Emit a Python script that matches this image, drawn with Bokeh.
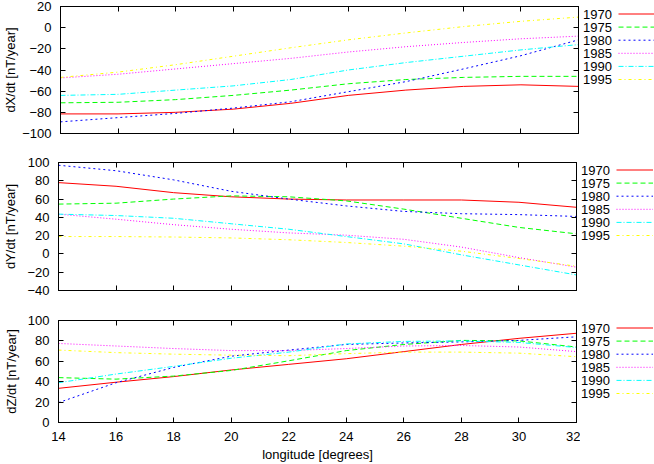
from bokeh.plotting import figure
from bokeh.layouts import column, row
from bokeh.models import Range1d, SingleIntervalTicker, LinearAxis
from bokeh.core.properties import value
from bokeh.embed import file_html
from bokeh.resources import INLINE

# ---- data ----
longitude = [14, 16, 18, 20, 22, 24, 26, 28, 30, 32]
years = ["1970", "1975", "1980", "1985", "1990", "1995"]

dX = {
    "1970": [-81.5, -81.5, -80, -77, -71.5, -64, -59, -55.5, -54, -55.5],
    "1975": [-71, -70.5, -68, -64, -59, -53, -49, -47, -46, -46],
    "1980": [-89, -85, -81, -76, -70, -60.5, -51, -39, -26.5, -11.5],
    "1985": [-47.5, -44, -39, -34, -29, -23, -18, -14, -10.5, -8],
    "1990": [-64, -63, -59, -55, -49, -40, -33, -27, -21, -16],
    "1995": [-47, -42, -35, -27, -19, -11.5, -5, 1, 6, 10],
}
dY = {
    "1970": [78, 74, 67, 62.5, 60, 59, 59, 59, 56.5, 51],
    "1975": [54.5, 55.5, 60, 63.5, 62.5, 58, 49, 39, 29, 22],
    "1980": [97, 91, 81, 68.5, 60, 52.5, 46.5, 44, 43, 41],
    "1985": [43.5, 38, 32, 27, 23, 20.5, 16, 7.5, -4, -14.5],
    "1990": [43.5, 42, 39, 33, 27, 19, 11, -1, -12, -23],
    "1995": [19, 19, 18.5, 17.5, 15.5, 12.5, 8.5, 3, -5, -13.5],
}
dZ = {
    "1970": [33.5, 39.5, 45, 51.5, 57, 62.5, 69.5, 76.5, 82.5, 87.5],
    "1975": [44, 42.5, 45.5, 51, 60.5, 70.5, 76.5, 80.5, 80, 74],
    "1980": [19.5, 39, 54, 65, 71, 76.5, 78, 79, 80.5, 84],
    "1985": [77.5, 75, 72.5, 70.5, 70.5, 72.5, 75, 75.5, 74, 69.5],
    "1990": [39, 47.5, 55, 63, 69, 77, 79.5, 80, 78.5, 73.5],
    "1995": [71, 68.5, 67, 66, 65.5, 67.5, 69, 69, 68, 64.5],
}
y_labels = ["dX/dt [nT/year]", "dY/dt [nT/year]", "dZ/dt [nT/year]"]
y_limits = [(-100, 20), (-40, 100), (0, 100)]
x_label = "longitude [degrees]"

colors = ["#ff0000", "#00ff00", "#0000ff", "#ff00ff", "#00ffff", "#ffff00"]
dashes = ["solid", "5 3", "2 3", "1 2", "5 2 1 2", "3 3 1 3"]

FONT = "Liberation Sans"
FS = "13px"
FRAME_W = 518
LEFT = 51
LEG_W = 73


def style_axis(ax):
    ax.major_tick_in = 5
    ax.major_tick_out = 0
    ax.minor_tick_line_color = None
    ax.axis_line_color = "black"
    ax.major_tick_line_color = "black"
    ax.major_label_text_font = FONT
    ax.major_label_text_font_size = FS
    ax.major_label_text_color = "black"
    ax.axis_label_text_font = FONT
    ax.axis_label_text_font_size = FS
    ax.axis_label_text_font_style = "normal"
    ax.axis_label_text_color = "black"


def make_panel(series, ylim, ylabel, frame_h, top, bottom, show_x, label_standoff):
    p = figure(frame_width=FRAME_W, frame_height=frame_h,
               x_range=Range1d(14, 32), y_range=Range1d(*ylim),
               output_backend="svg", toolbar_location=None,
               min_border_left=LEFT, min_border_right=0,
               min_border_top=top, min_border_bottom=bottom,
               background_fill_color="white", border_fill_color="white",
               outline_line_color="black", outline_line_width=1)
    p.xgrid.visible = False
    p.ygrid.visible = False

    xt = SingleIntervalTicker(interval=2)
    yt = SingleIntervalTicker(interval=20)
    p.xaxis.ticker = xt
    p.yaxis.ticker = yt
    style_axis(p.xaxis[0])
    style_axis(p.yaxis[0])

    p.yaxis.axis_label = ylabel
    p.yaxis.major_label_standoff = 5
    p.yaxis.axis_label_standoff = label_standoff
    if show_x:
        p.xaxis.axis_label = x_label
        p.xaxis.major_label_standoff = 5
        p.xaxis.axis_label_standoff = 3
    else:
        p.xaxis.major_label_text_color = None
        p.xaxis.major_label_standoff = 0

    # mirrored tick axes (no labels)
    for loc, tk in (("above", xt), ("right", yt)):
        ax = LinearAxis(ticker=tk, major_tick_in=5, major_tick_out=0,
                        minor_tick_line_color=None, major_label_text_color=None,
                        major_label_standoff=0, axis_line_color="black")
        p.add_layout(ax, loc)

    for i, yr in enumerate(years):
        p.line(longitude, series[yr], line_color=colors[i], line_width=1,
               line_dash=dashes[i])

    # legend in a side figure (label left, line sample right, gnuplot style);
    # its frame is aligned with the panel frame, y measured in px from frame top
    lg = figure(frame_width=LEG_W, frame_height=frame_h, x_range=Range1d(0, LEG_W),
                y_range=Range1d(frame_h, 0), output_backend="svg", toolbar_location=None,
                min_border_left=0, min_border_right=0,
                min_border_top=top, min_border_bottom=bottom, outline_line_color=None,
                background_fill_color="white", border_fill_color="white")
    lg.axis.visible = False
    lg.grid.visible = False
    rows_y = [7.5 + i * 13.1 for i in range(len(years))]
    for i, yr in enumerate(years):
        lg.line([36, LEG_W], [rows_y[i], rows_y[i]], line_color=colors[i],
                line_width=1, line_dash=dashes[i])
    lg.text(x=[0.5] * len(years), y=rows_y, text=years, text_font=value(FONT),
            text_font_size=FS, text_color="black", text_baseline="middle",
            text_align="left")
    return row(p, lg)


r1 = make_panel(dX, y_limits[0], y_labels[0], 127, 6, 14, False, 1)
r2 = make_panel(dY, y_limits[1], y_labels[1], 128, 15, 15, False, 6)
r3 = make_panel(dZ, y_limits[2], y_labels[2], 102, 15, 40, True, 6)

layout = column(r1, r2, r3)
open("out.html", "w").write(file_html(layout, INLINE))
